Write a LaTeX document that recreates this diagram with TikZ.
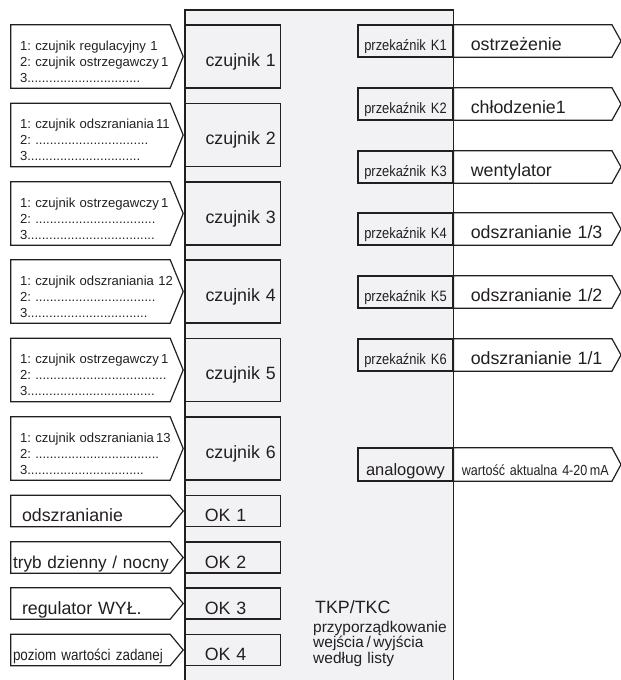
\documentclass[tikz,border=0pt]{standalone}
\usepackage{fontspec}
\setmainfont{Liberation Sans}
\newfontfamily\narrowsf[FakeStretch=0.86]{Liberation Sans}
\usetikzlibrary{positioning}
\definecolor{PanelGray}{HTML}{F2F2F4}
\definecolor{LineDark}{HTML}{231F20}
\frenchspacing
\newcommand\rowfont{\fontsize{17.8}{20}\selectfont}
\newcommand\listfont{\fontsize{13.1}{16.2}\selectfont}
\newcommand\relayfont{\narrowsf\fontsize{15}{18}\selectfont}
\newcommand\notefont{\fontsize{15.5}{15.5}\selectfont}
% pointed outlines for the input and output fields
\newcommand\inarrowline[1]{\draw[shapeline] (#1.north west) -- ([xshift=-13pt]#1.north east) -- (#1.east) -- ([xshift=-13pt]#1.south east) -- (#1.south west) -- cycle;}
\newcommand\outarrowline[1]{\draw[shapeline] (#1.north west) -- ([xshift=-9pt]#1.north east) -- (#1.east) -- ([xshift=-9pt]#1.south east) -- (#1.south west) -- cycle;}

\begin{document}
\begin{tikzpicture}[x=1pt,y=-1pt,every node/.style={text=LineDark},
    shapeline/.style={line width=1.2pt,draw=LineDark},
    sensorin/.style={inner xsep=9pt,inner ysep=0pt,text width=154pt,align=left,text height=25pt,text depth=38pt,font=\listfont},
    sensorbox/.style={shapeline,fill=PanelGray,inner xsep=5pt,inner ysep=0pt,text width=85pt,align=right,text height=41pt,text depth=22pt,font=\rowfont},
    okin/.style={inner xsep=11pt,inner ysep=0pt,text width=150pt,align=left,text height=26pt,text depth=5pt,font=\rowfont},
    okbox/.style={shapeline,fill=PanelGray,inner xsep=19pt,inner ysep=0pt,text width=57pt,align=left,text height=26pt,text depth=5pt,font=\rowfont},
    relaybox/.style={shapeline,fill=PanelGray,inner xsep=3pt,inner ysep=0pt,text width=89pt,align=center,text height=25.5pt,text depth=6.5pt,font=\relayfont},
    relayout/.style={inner xsep=17pt,inner ysep=0pt,text width=133pt,align=left,text height=25.5pt,text depth=6.5pt,font=\rowfont}]
    \useasboundingbox (0,0) rectangle (621,680);

    % controller panel
    \node[fill=PanelGray,minimum width=268pt,minimum height=680pt,inner sep=0pt,anchor=north west] (panel) at (185,10) {};
    \draw[shapeline] (panel.south west) |- (panel.north east) -- (panel.south east);

    % sensor inputs
    \node[sensorin] (s1) at (97,56.5) {\mbox{1: czujnik regulacyjny 1}\\\mbox{2: czujnik ostrzegawczy\,1}\\3...............................};
    \node[sensorbox,right=2pt of s1] (cz1) {czujnik 1};
    \node[sensorin] (s2) at (97,135) {\mbox{1: czujnik odszraniania\,11}\\2: ...............................\\3...............................};
    \node[sensorbox,right=2pt of s2] (cz2) {czujnik 2};
    \node[sensorin] (s3) at (97,213.5) {\mbox{1: czujnik ostrzegawczy\,1}\\2: .................................\\3...................................};
    \node[sensorbox,right=2pt of s3] (cz3) {czujnik 3};
    \node[sensorin] (s4) at (97,291.5) {\mbox{1: czujnik odszraniania 12}\\2: .................................\\3.................................};
    \node[sensorbox,right=2pt of s4] (cz4) {czujnik 4};
    \node[sensorin] (s5) at (97,370) {\mbox{1: czujnik ostrzegawczy\,1}\\2: ....................................\\3...................................};
    \node[sensorbox,right=2pt of s5] (cz5) {czujnik 5};
    \node[sensorin] (s6) at (97,448.5) {\mbox{1: czujnik odszraniania\,13}\\2: ..................................\\3................................};
    \node[sensorbox,right=2pt of s6] (cz6) {czujnik 6};

    % digital inputs
    \node[okin] (d1) at (97,511) {odszranianie};
    \node[okbox,right=2pt of d1] (ok1) {OK 1};
    \node[okin,inner xsep=2pt,text width=168pt,font={\fontsize{17.2}{20}\selectfont}] (d2) at (97,557.5) {tryb dzienny / nocny};
    \node[okbox,right=2pt of d2] (ok2) {OK 2};
    \node[okin] (d3) at (97,603.5) {regulator WYŁ.};
    \node[okbox,right=2pt of d3] (ok3) {OK 3};
    \node[okin,inner xsep=2pt,text width=168pt,font={\narrowsf\fontsize{15.6}{18}\selectfont}] (d4) at (97,650) {poziom wartości zadanej};
    \node[okbox,right=2pt of d4] (ok4) {OK 4};

    % relay outputs
    \node[relaybox] (k1) at (405.5,41) {przekaźnik K1};
    \node[relayout,right=0pt of k1] (o1) {ostrzeżenie};
    \node[relaybox] (k2) at (405.5,104) {przekaźnik K2};
    \node[relayout,right=0pt of k2] (o2) {chłodzenie1};
    \node[relaybox] (k3) at (405.5,167) {przekaźnik K3};
    \node[relayout,right=0pt of k3] (o3) {wentylator};
    \node[relaybox] (k4) at (405.5,229) {przekaźnik K4};
    \node[relayout,right=0pt of k4] (o4) {odszranianie 1/3};
    \node[relaybox] (k5) at (405.5,292) {przekaźnik K5};
    \node[relayout,right=0pt of k5] (o5) {odszranianie 1/2};
    \node[relaybox] (k6) at (405.5,355) {przekaźnik K6};
    \node[relayout,right=0pt of k6] (o6) {odszranianie 1/1};
    \node[relaybox,font={\fontsize{16.5}{19}\selectfont},text height=27pt,text depth=6pt] (an) at (405.5,464.5) {analogowy};
    \node[relayout,font={\narrowsf\fontsize{14.6}{18}\selectfont},inner xsep=8pt,text width=151pt,text height=27pt,text depth=6pt,right=0pt of an] (o7) {wartość aktualna 4-20\,mA};

    \inarrowline{s1} \inarrowline{s2} \inarrowline{s3}
    \inarrowline{s4} \inarrowline{s5} \inarrowline{s6}
    \inarrowline{d1} \inarrowline{d2} \inarrowline{d3} \inarrowline{d4}
    \outarrowline{o1} \outarrowline{o2} \outarrowline{o3} \outarrowline{o4}
    \outarrowline{o5} \outarrowline{o6} \outarrowline{o7}

    % device note
    \node[anchor=base west,inner sep=0pt,font={\fontsize{17.8}{20}\selectfont}] (tkp) at (315,613) {TKP/TKC};
    \node[anchor=base west,inner sep=0pt,text width=150pt,align=left,font=\notefont] (assign) at (313,632) {przyporządkowanie\\wejścia\,/\,wyjścia\\według listy};
\end{tikzpicture}
\end{document}
